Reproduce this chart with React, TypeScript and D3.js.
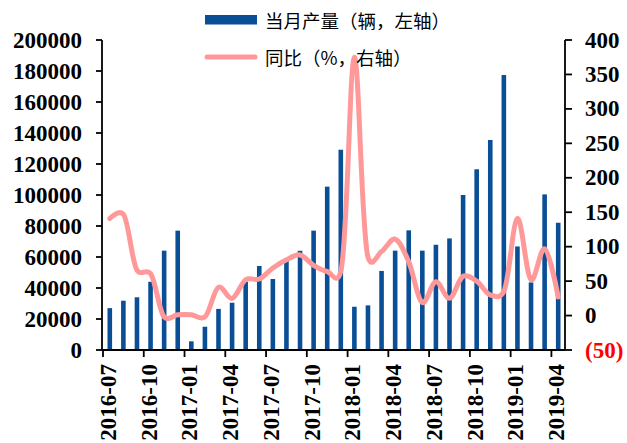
import React from "react";
import * as d3 from "d3";

const months: string[] = [
  "2016-07","2016-08","2016-09","2016-10","2016-11","2016-12",
  "2017-01","2017-02","2017-03","2017-04","2017-05","2017-06",
  "2017-07","2017-08","2017-09","2017-10","2017-11","2017-12",
  "2018-01","2018-02","2018-03","2018-04","2018-05","2018-06",
  "2018-07","2018-08","2018-09","2018-10","2018-11","2018-12",
  "2019-01","2019-02","2019-03","2019-04",
];

const production: number[] = [
  27000, 31800, 34000, 44000, 64100, 77000,
  5600, 15000, 26500, 30500, 44100, 54200,
  45800, 57400, 64000, 77000, 105400, 129200,
  27900, 28800, 51000, 64100, 77200, 64100,
  67900, 72000, 100000, 116600, 135500, 177400,
  66800, 43600, 100400, 82100,
];

const yoy: number[] = [
  141, 147, 66, 61, -2, 1,
  1, -2, 41, 25, 52, 53,
  69, 81, 88, 73, 64, 64,
  375, 85, 93, 111, 78, 19,
  49, 25, 57, 50, 30, 35,
  141, 52, 97, 27,
];

const leftTicks: number[] = [0, 20000, 40000, 60000, 80000, 100000, 120000, 140000, 160000, 180000, 200000];
const rightTicks: number[] = [-50, 0, 50, 100, 150, 200, 250, 300, 350, 400];

const legendBar = "当月产量（辆，左轴）";
const legendLine = "同比（%，右轴）";

const W = 627, H = 443;
const L = 103, R = 565, T = 40, B = 350;
const BAR = "#0A4F96";
const LINE = "#FF9999";
const SERIF = "'Liberation Serif','Times New Roman',serif";
const CJK = "'Noto Sans CJK SC','Noto Sans CJK JP',sans-serif";

export default function App() {
  const x = d3.scaleBand<string>().domain(months).range([L, R]).paddingInner(0).paddingOuter(0);
  const yL = d3.scaleLinear().domain([0, 200000]).range([B, T]);
  const yR = d3.scaleLinear().domain([-50, 400]).range([B, T]);
  const bw = x.bandwidth();
  const cx = (m: string) => (x(m) as number) + bw / 2;
  const barW = 4.6;

  const line = d3
    .line<number>()
    .x((_, i) => cx(months[i]))
    .y((v) => yR(v))
    .curve(d3.curveCatmullRom.alpha(0.2));

  const xTickIdx = months.map((_, i) => i).filter((i) => i % 3 === 0);

  return (
    <div style={{ position: "fixed", left: 0, top: 0 }}>
      <svg width={W} height={H} style={{ display: "block", background: "#fff" }}>
        {/* bars */}
        {production.map((v, i) => (
          <rect
            key={"b" + i}
            x={cx(months[i]) - barW / 2}
            y={yL(v)}
            width={barW}
            height={B - yL(v)}
            fill={BAR}
          />
        ))}
        {/* line */}
        <path d={line(yoy) || ""} fill="none" stroke={LINE} strokeWidth={5} strokeLinejoin="round" strokeLinecap="round" />

        {/* left axis */}
        <line x1={L - 1} x2={L - 1} y1={T} y2={B} stroke="#000" strokeWidth={1.8} />
        {leftTicks.map((t) => (
          <g key={"lt" + t}>
            <line x1={L - 7} x2={L - 1} y1={yL(t)} y2={yL(t)} stroke="#000" strokeWidth={1.8} />
            <text x={82} y={yL(t)} textAnchor="end" dominantBaseline="central" fontFamily={SERIF} fontWeight="bold" fontSize={23} fill="#000">
              {t}
            </text>
          </g>
        ))}

        {/* right axis */}
        <line x1={R} x2={R} y1={T} y2={B} stroke="#000" strokeWidth={1.8} />
        {rightTicks.map((t) => (
          <g key={"rt" + t}>
            <line x1={R} x2={R + 7} y1={yR(t)} y2={yR(t)} stroke="#000" strokeWidth={1.8} />
            <text x={585} y={yR(t)} textAnchor="start" dominantBaseline="central" fontFamily={SERIF} fontWeight="bold" fontSize={23} fill={t < 0 ? "#FF0000" : "#000"}>
              {t < 0 ? `(${Math.abs(t)})` : t}
            </text>
          </g>
        ))}

        {/* x axis */}
        <line x1={L - 1} x2={R} y1={B} y2={B} stroke="#000" strokeWidth={1.8} />
        {xTickIdx.map((i) => (
          <g key={"xt" + i}>
            <line x1={x(months[i]) as number} x2={x(months[i]) as number} y1={B} y2={B + 7} stroke="#000" strokeWidth={1.8} />
            <text
              transform={`translate(${cx(months[i]) + 6},${364}) rotate(-90)`}
              textAnchor="end"
              fontFamily={SERIF}
              fontWeight="bold"
              fontSize={23}
              fill="#000"
            >
              {months[i]}
            </text>
          </g>
        ))}

        {/* legend */}
        <rect x={205} y={15} width={52} height={9.5} fill={BAR} />
        <text x={265} y={20} dominantBaseline="central" fontFamily={CJK} fontSize={18.5} fill="#000">
          {legendBar}
        </text>
        <line x1={207} x2={255} y1={57} y2={57} stroke={LINE} strokeWidth={5} strokeLinecap="round" />
        <text x={265} y={57} dominantBaseline="central" fontFamily={CJK} fontSize={18.5} fill="#000">
          {legendLine}
        </text>
      </svg>
    </div>
  );
}
